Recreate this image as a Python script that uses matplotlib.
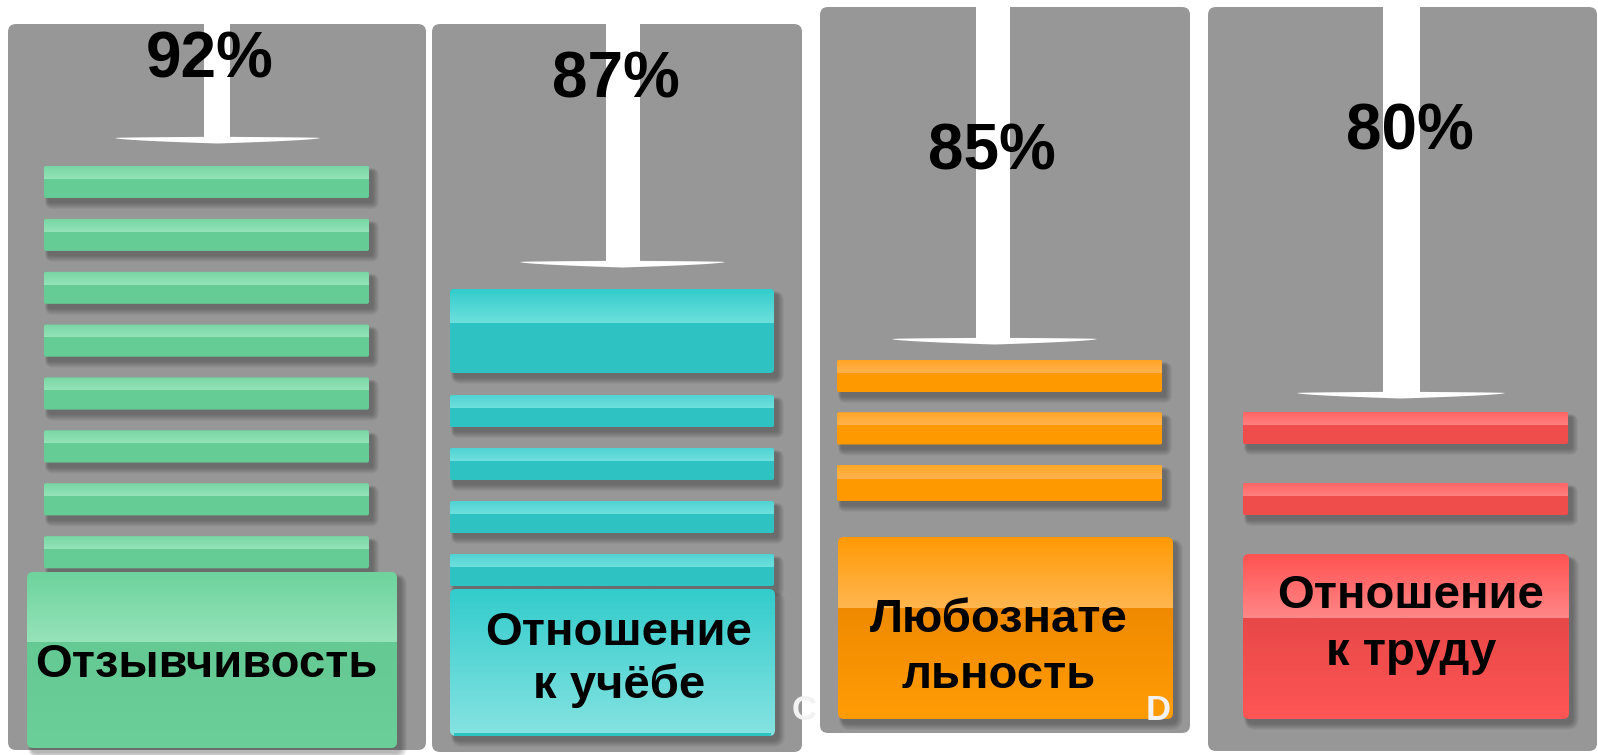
import numpy as np
import matplotlib
matplotlib.use("Agg")
import matplotlib.pyplot as plt
from matplotlib.patches import FancyBboxPatch, Polygon, Rectangle
from matplotlib.colors import to_rgba

# ---------------- data ----------------
percents = [92, 87, 85, 80]
categories = ["Отзывчивость", "Отношение\nк учёбе", "Любознате\nльность", "Отношение\nк труду"]
thin_bar_counts = [8, 4, 3, 2]
corner_letters = ["", "C", "D", ""]

# ---------------- style / layout (pixel units) ----------------
W, H = 1598, 755
panel_color = "#979797"
palettes = [
    dict(base="#66cc96", hl_top="#78d6a3", hl_bot="#95e3b9", big_top="#6dd39d", big_hl="#96e3b9", big_low="#64c993", big_bot="#6acf99"),
    dict(base="#2fc2c2", hl_top="#4fd3d3", hl_bot="#6fe0dd", big_top="#33cccc", big_hl="#5fd8d6", big_low="#33cccc", big_bot="#86e3e1"),
    dict(base="#ff9900", hl_top="#ffa525", hl_bot="#ffb34d", big_top="#ff9a05", big_hl="#ffb650", big_low="#ef8a00", big_bot="#ff9c05"),
    dict(base="#ef4c4c", hl_top="#ff6565", hl_bot="#ff7f7f", big_top="#ff5252", big_hl="#ff8787", big_low="#e84848", big_bot="#ff5555"),
]
panels = [(8, 24, 426, 750), (432, 24, 802, 752), (820, 7, 1190, 733), (1208, 7, 1597, 751)]
bar_x = [(44, 369), (450, 774), (837, 1162), (1243, 1568)]
first_bar_y = [166, 395, 360, 412]
bar_step = [52.9, 53.0, 52.5, 71.0]
bar_h = 32
shaft_x = [(204, 230), (606, 640), (976, 1010), (1383, 1420)]
head_x = [(115, 320), (520, 725), (892, 1097), (1297, 1505)]
head_gap = [28, 27, 21, 19]
big_box = [(27, 572, 397, 748), (450, 589, 775, 736), (838, 537, 1173, 719), (1243, 554, 1569, 719)]
big_hl_frac = [0.40, 0.0, 0.39, 0.39]
pct_pos = [(210, 78), (616, 97), (992, 170), (1410, 150)]
label_pos = [(206, 677, 53), (619, 645, 53), (999, 632, 56), (1411, 608, 57)]
letter_pos = [None, (804, 720), (1158, 720), None]

plt.rcParams['font.family'] = ['Liberation Sans', 'DejaVu Sans']

fig = plt.figure(figsize=(W / 100, H / 100), dpi=100)
ax = fig.add_axes([0, 0, 1, 1])
ax.set_xlim(0, W)
ax.set_ylim(H, 0)
ax.axis("off")
fig.patch.set_facecolor("white")


def rbox(x0, y0, x1, y1, r, **kw):
    return FancyBboxPatch((x0, y0), x1 - x0, y1 - y0,
                          boxstyle=f"round,pad=0,rounding_size={r}", **kw)


def gradient(x0, y0, x1, y1, ctop, cbot, clip, z):
    n = 64
    t = np.linspace(0, 1, n)[:, None]
    a = np.array(to_rgba(ctop))
    b = np.array(to_rgba(cbot))
    arr = (a * (1 - t) + b * t)[:, None, :]
    im = ax.imshow(arr, extent=(x0, x1, y1, y0), aspect="auto", zorder=z,
                   interpolation="bilinear")
    im.set_clip_path(clip)
    return im


def shadow(x0, y0, x1, y1, r, z):
    for k in range(7):
        p = rbox(x0 + 4 - k * 0.5, y0 + 5 - k * 0.5, x1 + 4 + k, y1 + 5 + k, r + k,
                 facecolor="black", edgecolor="none", alpha=0.045, zorder=z)
        ax.add_patch(p)


def thin_bar(x0, y0, x1, y1, pal, z):
    shadow(x0, y0, x1, y1, 2, z)
    base = rbox(x0, y0, x1, y1, 2, facecolor=pal["base"], edgecolor="none", zorder=z + 0.1)
    ax.add_patch(base)
    hl = 0.4 * (y1 - y0)
    clip = rbox(x0, y0, x1, y1, 2, facecolor="none", edgecolor="none", transform=ax.transData)
    ax.add_patch(clip)
    clip.set_visible(False)
    gradient(x0, y0, x1, y0 + hl, pal["hl_top"], pal["hl_bot"], clip, z + 0.2)


for i in range(4):
    pal = palettes[i]
    px0, py0, px1, py1 = panels[i]
    ax.add_patch(rbox(px0, py0, px1, py1, 8, facecolor=panel_color, edgecolor="none", zorder=1))

    # arrow
    sx0, sx1 = shaft_x[i]
    hx0, hx1 = head_x[i]
    y_first = first_bar_y[i] if i != 1 else 289
    yt = y_first - head_gap[i]
    ax.add_patch(Rectangle((sx0, py0), sx1 - sx0, yt - py0, facecolor="white", edgecolor="none", zorder=2))
    xc = (hx0 + hx1) / 2
    half = (hx1 - hx0) / 2
    xs = np.linspace(hx0, hx1, 120)
    ybot = yt + 5.5 * (1 - np.abs(xs - xc) / half) ** 0.6
    ytop = yt - 1.2 * (1 - np.abs(xs - xc) / half) ** 0.5
    pts = np.vstack([np.column_stack([xs, ytop]), np.column_stack([xs[::-1], ybot[::-1]])])
    ax.add_patch(Polygon(pts, closed=True, facecolor="white", edgecolor="none", zorder=2))

    # medium box (panel 2)
    z = 3
    if i == 1:
        mx0, mx1 = bar_x[i]
        my0, my1 = 289, 373
        shadow(mx0, my0, mx1, my1, 4, z)
        ax.add_patch(rbox(mx0, my0, mx1, my1, 4, facecolor=pal["base"], edgecolor="none", zorder=z + 0.1))
        clip = rbox(mx0, my0, mx1, my1, 4, facecolor="none", edgecolor="none")
        ax.add_patch(clip)
        clip.set_visible(False)
        gradient(mx0, my0, mx1, 323, "#33cccc", "#6de0dd", clip, z + 0.2)
        z += 1

    # thin bars
    bx0, bx1 = bar_x[i]
    for k in range(thin_bar_counts[i]):
        y0 = first_bar_y[i] + k * bar_step[i]
        h = bar_h + (4 if (i == 2 and k == thin_bar_counts[i] - 1) else 0)
        thin_bar(bx0, y0, bx1, y0 + h, pal, z)
        z += 1

    # big box
    gx0, gy0, gx1, gy1 = big_box[i]
    shadow(gx0, gy0, gx1, gy1, 6, z)
    clip = rbox(gx0, gy0, gx1, gy1, 6, facecolor="none", edgecolor="none")
    ax.add_patch(clip)
    clip.set_visible(False)
    if big_hl_frac[i] > 0:
        ymid = gy0 + big_hl_frac[i] * (gy1 - gy0)
        gradient(gx0, gy0, gx1, ymid, pal["big_top"], pal["big_hl"], clip, z + 0.2)
        gradient(gx0, ymid, gx1, gy1, pal["big_low"], pal["big_bot"], clip, z + 0.1)
    else:
        gradient(gx0, gy0, gx1, gy1, pal["big_top"], pal["big_bot"], clip, z + 0.1)
        ax.add_patch(Rectangle((gx0 + 4, gy1 - 3), gx1 - gx0 - 8, 3, facecolor="#2fc4c4",
                               edgecolor="none", zorder=z + 0.3))
    z += 1

    # label text
    lx, ly, lsp = label_pos[i]
    for j, line in enumerate(categories[i].split("\n")):
        ax.text(lx, ly + j * lsp, line, ha="center", va="baseline", fontsize=34,
                fontweight="bold", color="black", zorder=50)

    # percent text
    tx, ty = pct_pos[i]
    ax.text(tx, ty, f"{percents[i]}%", ha="center", va="baseline", fontsize=46,
            fontweight="bold", color="black", zorder=50)

    if letter_pos[i] is not None:
        cx, cy = letter_pos[i]
        ax.text(cx, cy, corner_letters[i], ha="center", va="baseline", fontsize=25,
                fontweight="bold", color="#f2f2f2", zorder=50)

fig.savefig("out.png", dpi=100, facecolor="white")
